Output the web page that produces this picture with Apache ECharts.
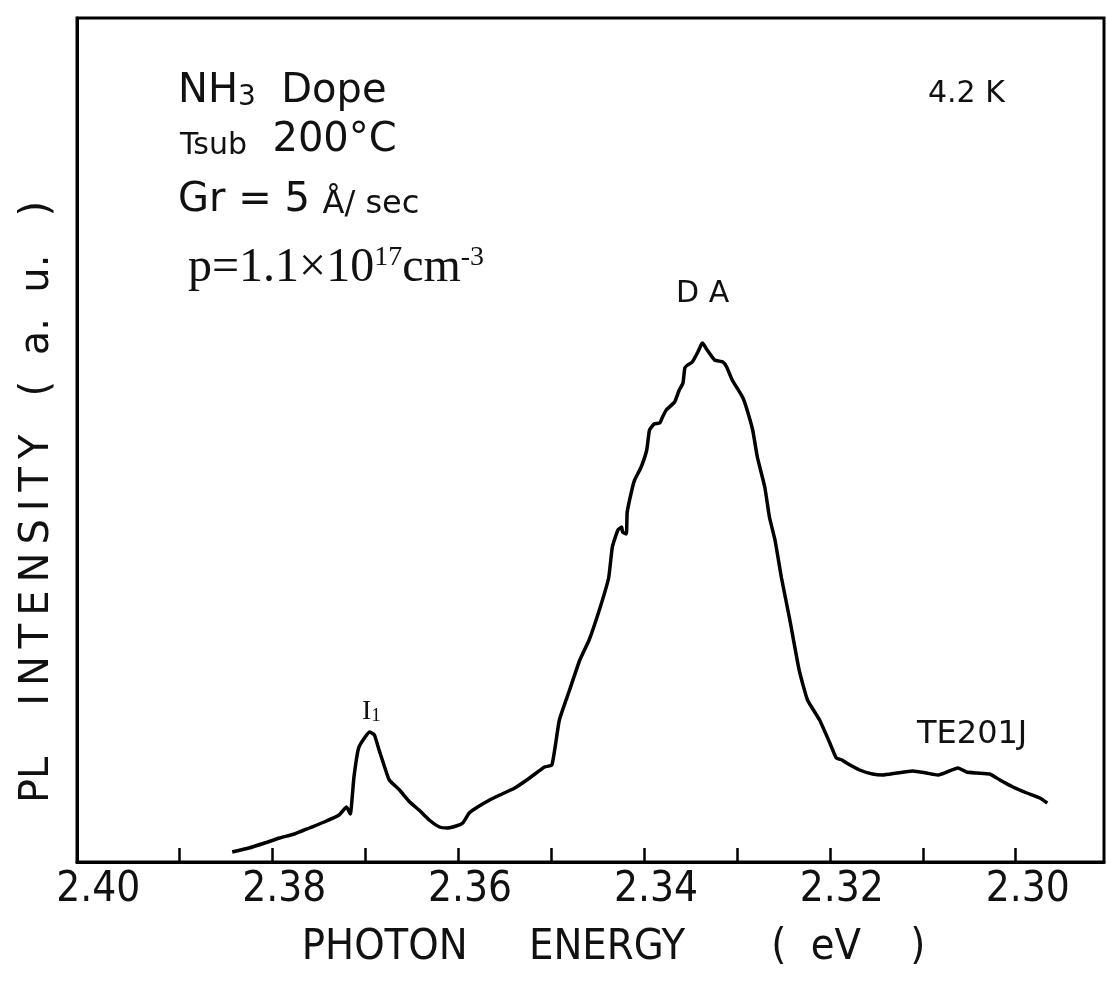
<!DOCTYPE html>
<html>
<head>
<meta charset="utf-8">
<script src="https://cdn.jsdelivr.net/npm/echarts@6/dist/echarts.min.js"></script>
<style>
  html, body { margin: 0; padding: 0; background: #fff; }
  #chart { width: 1107px; height: 996px; }
</style>
</head>
<body>
<div id="chart"></div>
<script>
// photon energy (eV) from left to right
const energy = [
  2.3843, 2.3825, 2.3808, 2.3792, 2.3776, 2.3760, 2.3744, 2.3728, 2.3720, 2.3716,
  2.3712, 2.3707, 2.3700, 2.3695, 2.3690, 2.3685, 2.3679, 2.3674, 2.3663, 2.3652,
  2.3642, 2.3631, 2.3620, 2.3612, 2.3602, 2.3595, 2.3588, 2.3579, 2.3566, 2.3555,
  2.3539, 2.3523, 2.3507, 2.3499, 2.3491, 2.3480, 2.3469, 2.3459, 2.3448, 2.3438,
  2.3434, 2.3428, 2.3424, 2.3423, 2.3419, 2.3418, 2.3413, 2.3410, 2.3403, 2.3397,
  2.3394, 2.3389, 2.3383, 2.3380, 2.3376, 2.3367, 2.3362, 2.3358, 2.3356, 2.3353,
  2.3348, 2.3342, 2.3338, 2.3337, 2.3332, 2.3324, 2.3315, 2.3311, 2.3305, 2.3294,
  2.3290, 2.3283, 2.3278, 2.3270, 2.3265, 2.3259, 2.3252, 2.3243, 2.3233, 2.3224,
  2.3211, 2.3200, 2.3193, 2.3187, 2.3182, 2.3168, 2.3154, 2.3143, 2.3128, 2.3111,
  2.3096, 2.3084, 2.3074, 2.3062, 2.3053, 2.3042, 2.3028, 2.3017, 2.3003, 2.2988,
  2.2974, 2.2966
];
// PL intensity (a.u.)
const intensity = [
  10, 14, 19, 24, 28, 34, 40, 47, 55, 48,
  85, 114, 125, 130, 127, 112, 95, 82, 72, 60,
  52, 42, 35, 34, 36, 39, 49, 55, 62, 67,
  74, 84, 95, 97, 142, 172, 202, 222, 252, 284,
  315, 332, 335, 330, 328, 350, 372, 382, 395, 412,
  432, 438, 439, 445, 452, 460, 472, 479, 494, 497,
  500, 510, 518, 519, 512, 502, 500, 495, 482, 465,
  455, 432, 405, 375, 345, 322, 284, 242, 192, 162,
  142, 119, 104, 102, 99, 92, 88, 87, 89, 91,
  89, 87, 90, 94, 90, 89, 88, 82, 75, 69,
  64, 59
];
const tickValues = [2.39, 2.38, 2.37, 2.36, 2.35, 2.34, 2.33, 2.32, 2.31, 2.30];
const labelValues = [2.40, 2.38, 2.36, 2.34, 2.32, 2.30];

const chart = echarts.init(document.getElementById("chart"));
const sans = "'DejaVu Sans', 'Liberation Sans', sans-serif";
const narrow = "'Liberation Sans Narrow', 'DejaVu Sans Condensed', sans-serif";
const serif = "'Liberation Serif', 'DejaVu Serif', serif";
const thin = "\u2009";

const option = {
  backgroundColor: "#fff",
  animation: false,
  grid: {
    left: 77, right: 3, top: 18, bottom: 134,
    show: true, borderColor: "#000", borderWidth: 3
  },
  xAxis: {
    type: "value",
    inverse: true,
    min: 2.2905,
    max: 2.401,
    name: "PHOTON     ENERGY       (  eV    )",
    nameLocation: "middle",
    nameGap: 64,
    nameTextStyle: { fontFamily: narrow, fontSize: 43, color: "#111", padding: [0, 0, 0, 46] },
    axisLine: { onZero: false, lineStyle: { color: "#000", width: 3 } },
    axisTick: {
      inside: true, length: 14, customValues: tickValues,
      lineStyle: { color: "#000", width: 2.5 }
    },
    axisLabel: {
      customValues: labelValues,
      margin: 7,
      padding: [0, 0, 0, 24],
      fontFamily: narrow, fontSize: 42, color: "#111",
      formatter: v => v.toFixed(2)
    },
    splitLine: { show: false }
  },
  yAxis: {
    type: "value",
    min: 0,
    max: 844,
    name: "PL    " + "INTENSITY".split("").join(thin) + "   (  a.  u.   )",
    nameLocation: "middle",
    nameGap: 19,
    nameRotate: 90,
    nameTextStyle: { fontFamily: sans, fontSize: 40, color: "#111", padding: [0, 124, 0, 0] },
    axisLine: { show: true, lineStyle: { color: "#000", width: 3 } },
    axisTick: { show: false },
    axisLabel: { show: false },
    splitLine: { show: false }
  },
  graphic: [
    {
      type: "text", left: 178, top: 72,
      style: {
        text: "{a|NH}{s|3}{a|  Dope}",
        rich: {
          a: { fontFamily: sans, fontSize: 40, fill: "#111" },
          s: { fontFamily: sans, fontSize: 28, fill: "#111", verticalAlign: "bottom" }
        }
      }
    },
    {
      type: "text", left: 180, top: 121,
      style: {
        text: "{s|Tsub}{a|  200°C}",
        rich: {
          a: { fontFamily: sans, fontSize: 40, fill: "#111" },
          s: { fontFamily: sans, fontSize: 30, fill: "#111", verticalAlign: "bottom" }
        }
      }
    },
    {
      type: "text", left: 178, top: 181,
      style: {
        text: "{a|Gr = 5 }{s|Å/ sec}",
        rich: {
          a: { fontFamily: sans, fontSize: 40, fill: "#111" },
          s: { fontFamily: sans, fontSize: 32, fill: "#111", verticalAlign: "bottom" }
        }
      }
    },
    {
      type: "text", left: 188, top: 244,
      style: {
        text: "{a|p=1.1×10}{s|17}{a|cm}{s|-3}",
        rich: {
          a: { fontFamily: serif, fontSize: 48, fill: "#111" },
          s: { fontFamily: serif, fontSize: 28, fill: "#111", verticalAlign: "top", padding: [0, 0, 14, 0] }
        }
      }
    },
    {
      type: "text", left: 928, top: 79,
      style: { text: "4.2 K", fontFamily: sans, fontSize: 30, fill: "#111" }
    },
    {
      type: "text", left: 676, top: 279,
      style: { text: "D A", fontFamily: sans, fontSize: 30, fill: "#111" }
    },
    {
      type: "text", left: 362, top: 698,
      style: {
        text: "{a|I}{s|1}",
        rich: {
          a: { fontFamily: serif, fontSize: 28, fill: "#111" },
          s: { fontFamily: serif, fontSize: 19, fill: "#111", verticalAlign: "bottom", padding: [8, 0, 0, 0] }
        }
      }
    },
    {
      type: "text", left: 917, top: 719,
      style: { text: "TE201J", fontFamily: sans, fontSize: 32, fill: "#111" }
    }
  ],
  series: [
    {
      type: "line",
      data: energy.map((e, i) => [e, intensity[i]]),
      showSymbol: false,
      smooth: 0.15,
      lineStyle: { color: "#000", width: 3.5 }
    }
  ]
};
chart.setOption(option);
</script>
</body>
</html>
